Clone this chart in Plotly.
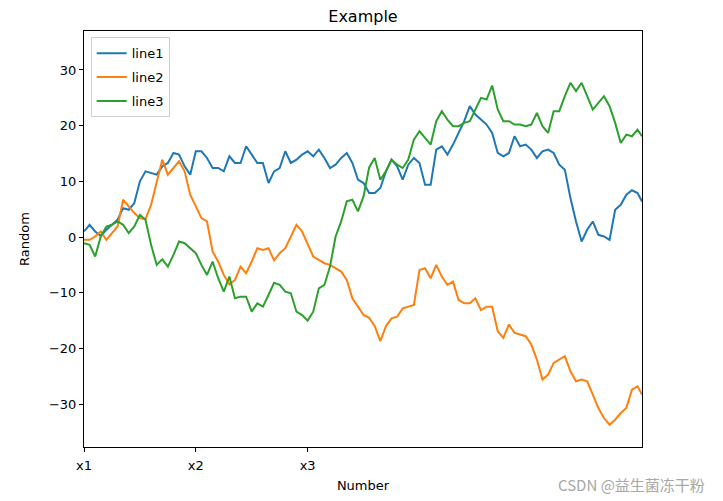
import plotly.graph_objects as go

# sample positions (index along the walk)
steps = list(range(0, 500, 5)) + [499]

line1 = [1.0, 2.2, 1.0, 0.2, 1.3, 2.2, 3.1, 5.2, 4.9, 6.1,
         10.0, 11.8, 11.5, 11.2, 12.7, 13.3, 15.1, 14.8, 12.7, 11.2,
         15.4, 15.4, 14.2, 12.4, 12.4, 11.8, 14.5, 13.3, 13.3, 16.3,
         14.8, 13.3, 13.3, 9.7, 11.8, 12.4, 15.4, 13.3, 13.9, 14.8,
         15.4, 14.5, 15.7, 14.2, 12.4, 13.0, 14.2, 15.1, 13.3, 10.3,
         9.7, 7.9, 7.9, 8.8, 11.8, 13.9, 12.7, 10.3, 13.0, 14.2,
         13.3, 9.4, 9.4, 15.7, 16.3, 14.8, 16.6, 18.7, 20.8, 23.5,
         22.0, 21.1, 20.2, 18.7, 15.1, 14.5, 15.1, 18.1, 16.3, 16.6,
         15.7, 14.2, 15.4, 15.7, 15.1, 13.0, 12.1, 7.0, 2.8, -0.8,
         1.3, 2.8, 0.4, 0.1, -0.5, 4.9, 5.8, 7.6, 8.4, 7.9, 6.4]

line2 = [-0.5, -0.5, 0.1, 1.0, -0.5, 0.7, 1.9, 6.7, 5.5, 4.3,
         3.4, 3.2, 5.8, 9.7, 13.9, 11.2, 12.4, 13.6, 11.8, 7.6,
         5.5, 3.4, 2.8, -2.6, -4.4, -6.8, -8.5, -7.7, -5.3, -6.5,
         -4.4, -2.0, -2.3, -2.0, -4.2, -2.9, -2.0, 0.1, 2.2, 1.0,
         -1.4, -3.5, -4.1, -4.7, -5.0, -5.6, -6.2, -7.7, -11.0, -12.5,
         -14.0, -14.5, -16.0, -18.7, -16.0, -14.6, -14.3, -12.8, -12.5, -12.2,
         -5.9, -5.6, -7.4, -5.0, -7.1, -8.6, -8.0, -11.3, -11.9, -11.9,
         -11.0, -13.1, -12.5, -12.5, -16.9, -18.1, -15.7, -17.2, -17.5, -17.8,
         -19.3, -22.0, -25.6, -24.7, -22.6, -22.0, -21.4, -24.1, -25.9, -25.6,
         -25.9, -28.3, -30.7, -32.5, -33.7, -32.8, -31.6, -30.7, -27.4, -26.8, -28.3]

line3 = [-1.1, -1.4, -3.5, 0.1, 1.9, 2.2, 2.8, 2.2, 0.7, 1.9,
         4.0, 3.1, -1.4, -5.0, -4.0, -5.3, -3.2, -0.8, -1.1, -2.0,
         -2.9, -5.0, -6.8, -4.4, -7.4, -9.8, -7.1, -11.0, -10.7, -10.7,
         -13.4, -11.9, -12.5, -10.4, -8.2, -8.6, -9.8, -10.1, -13.4, -14.0,
         -15.0, -13.4, -9.2, -8.6, -5.3, 0.1, 2.8, 6.4, 6.7, 4.6,
         7.3, 12.5, 14.2, 10.3, 11.8, 13.9, 13.0, 12.4, 13.9, 17.5,
         19.0, 17.8, 16.6, 20.8, 22.6, 21.1, 19.9, 19.9, 20.5, 20.8,
         22.9, 25.0, 24.7, 27.2, 22.9, 20.8, 20.8, 20.2, 20.2, 19.9,
         20.2, 22.3, 19.9, 18.7, 22.6, 22.6, 25.3, 27.7, 26.2, 27.7,
         25.3, 22.9, 24.1, 25.3, 23.5, 20.5, 16.9, 18.4, 18.1, 19.3, 18.1]

names = ["line1", "line2", "line3"]
colors = ["#1f77b4", "#ff7f0e", "#2ca02c"]
xtick_vals = [0, 100, 200]
xtick_text = ["x1", "x2", "x3"]
ytick_vals = [-30, -20, -10, 0, 10, 20, 30]

fig = go.Figure()
for name, ys, c in zip(names, [line1, line2, line3], colors):
    fig.add_trace(go.Scatter(x=steps, y=ys, mode="lines", name=name,
                             legendgroup=name,
                             line=dict(color=c, width=2)))

axis_common = dict(showline=True, linecolor="black", linewidth=1, mirror=True,
                   ticks="outside", ticklen=4, tickcolor="black",
                   showgrid=False, zeroline=False, automargin=False,
                   tickfont=dict(family="DejaVu Sans", size=13, color="black"))

fig.update_layout(
    width=723, height=501,
    margin=dict(l=84, r=81, t=31, b=54),
    paper_bgcolor="white", plot_bgcolor="white",
    title=dict(text="Example", x=(84 + 642) / 2 / 723, xanchor="center",
               y=1 - 16 / 501, yanchor="middle",
               font=dict(family="DejaVu Sans", size=16, color="black")),
    font=dict(family="DejaVu Sans", color="black"),
    legend=dict(x=0.012, y=0.985, xanchor="left", yanchor="top",
                bgcolor="rgba(255,255,255,0.8)", bordercolor="#d0d0d0",
                borderwidth=1, font=dict(family="DejaVu Sans", size=13),
                tracegroupgap=4, itemwidth=30),
    xaxis=dict(range=[0, 499], tickvals=xtick_vals, ticktext=xtick_text,
               ticklabelstandoff=2,
               title=dict(text="Number", standoff=9,
                          font=dict(family="DejaVu Sans", size=13)),
               **axis_common),
    yaxis=dict(range=[-37.7, 37.0], tickvals=ytick_vals,
               title=dict(text="Random", standoff=16,
                          font=dict(family="DejaVu Sans", size=13)),
               **axis_common),
    annotations=[dict(text="CSDN @益生菌冻干粉", xref="paper", yref="paper",
                      x=(707 - 84) / (642 - 84), y=-(484 - 447) / (447 - 31),
                      xanchor="right", yanchor="middle", showarrow=False,
                      font=dict(family="Noto Sans CJK SC", size=15, color="#a8a8a8"))]
)

fig.write_html("out.html")
